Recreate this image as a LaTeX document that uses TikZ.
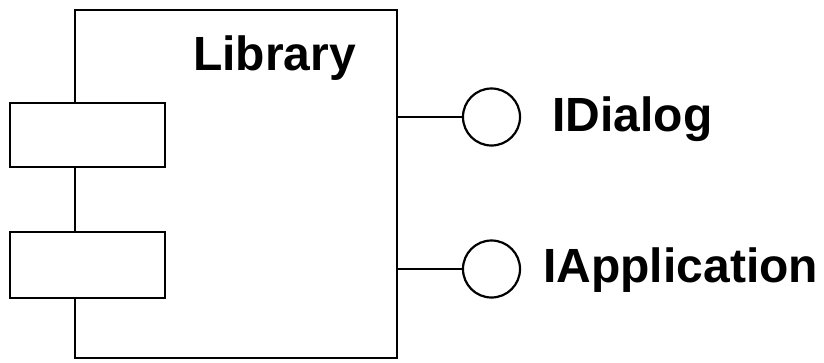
\documentclass[tikz,border=0pt]{standalone}
\usepackage{fontspec}
\setmainfont{Liberation Sans}
\begin{document}
\begin{tikzpicture}[x=1pt,y=-1pt,
  every path/.style={line width=2.6pt},
  box/.style={draw=black, fill=white, inner sep=0pt, line width=2.6pt},
  port/.style={box, minimum width=155pt},
  lollipop/.style={draw=black, fill=white, circle, inner sep=0pt, minimum size=57pt, line width=2.2pt},
  lbl/.style={inner sep=0pt, anchor=base west, font=\fontsize{48}{50}\selectfont\bfseries}]
\useasboundingbox (0,0) rectangle (824,362);
\node[box, minimum width=322pt, minimum height=348pt] (lib) at (236,184) {};
\node[port, minimum height=64pt] (p1) at (87.5,135) {};
\node[port, minimum height=66pt] (p2) at (87.5,265) {};
\node[lbl] (libname) at (192,70) {Library};
\node[lollipop] (c1) at (491.5,117) {};
\node[lollipop] (c2) at (491.5,269) {};
\draw (lib.east |- c1) -- (c1.west);
\draw (lib.east |- c2) -- (c2.west);
\node[lbl] (t1) at (551,131) {IDialog};
\node[lbl] (t2) at (542,282) {IApplication};
\end{tikzpicture}
\end{document}
